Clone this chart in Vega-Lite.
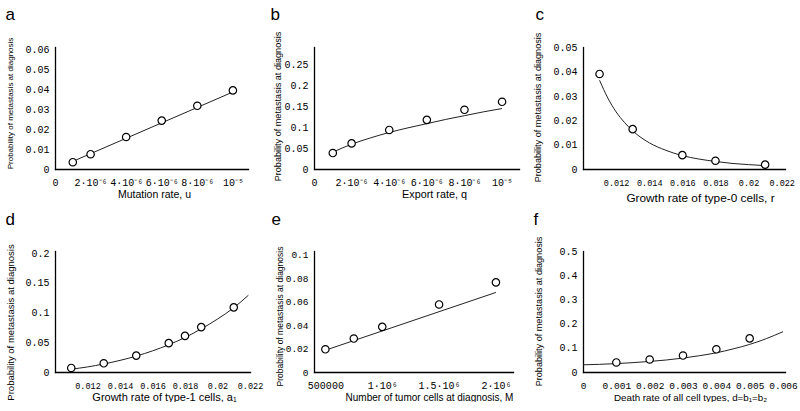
{
 "$schema": "https://vega.github.io/schema/vega-lite/v6.json",
 "padding": {"left": 5, "top": 5, "right": 0, "bottom": 0},
 "background": "white",
 "columns": 3,
 "bounds": "flush",
 "spacing": {"row": 82, "column": 64},
 "config": {
  "view": {"stroke": null},
  "axis": {"domainColor": "#000", "domainWidth": 1.3, "ticks": false, "grid": false, "labelColor": "#000", "labelFont": "Liberation Mono", "titleFont": "Liberation Sans", "titleFontWeight": "normal", "titleColor": "#000", "labelFontSize": 10, "domainCap": "square", "labelFlush": false, "labelOverlap": false, "labelBound": false, "titleBaseline": "middle"},
  "axisX": {"labelPadding": 8},
  "axisY": {"labelPadding": 6},
  "axisTop": {"labels": false, "domain": false, "ticks": false, "titleBaseline": "alphabetic", "titleAlign": "left", "titleAnchor": "start", "titleFontSize": 17, "titleFont": "Liberation Sans"}
 },
 "datasets": {
  "a_pts": [{"x":1e-6,"y":0.0034},{"x":2e-6,"y":0.0074},{"x":4e-6,"y":0.016},{"x":6e-6,"y":0.0242},{"x":8e-6,"y":0.0316},{"x":1e-5,"y":0.0393}],
  "a_line": [{"x":1e-6,"y":0.0038},{"x":1e-5,"y":0.0385}],
  "b_pts": [{"x":1e-6,"y":0.038},{"x":2e-6,"y":0.061},{"x":4e-6,"y":0.093},{"x":6e-6,"y":0.117},{"x":8e-6,"y":0.141},{"x":1e-5,"y":0.160}],
  "b_line": [{"x":1e-6,"y":0.040},{"x":1.5e-6,"y":0.050},{"x":2e-6,"y":0.059},{"x":3e-6,"y":0.074},{"x":4e-6,"y":0.087},{"x":5e-6,"y":0.098},{"x":6e-6,"y":0.108},{"x":7e-6,"y":0.118},{"x":8e-6,"y":0.127},{"x":9e-6,"y":0.136},{"x":1e-5,"y":0.144}],
  "c_pts": [{"x":0.011,"y":0.0391},{"x":0.013,"y":0.0164},{"x":0.016,"y":0.0057},{"x":0.018,"y":0.0034},{"x":0.021,"y":0.0018}],
  "c_line": [{"x":0.011,"y":0.0365},{"x":0.0115,"y":0.0292},{"x":0.012,"y":0.0235},{"x":0.0125,"y":0.0192},{"x":0.013,"y":0.0157},{"x":0.014,"y":0.0108},{"x":0.015,"y":0.0077},{"x":0.016,"y":0.0055},{"x":0.017,"y":0.0041},{"x":0.018,"y":0.0031},{"x":0.019,"y":0.0023},{"x":0.020,"y":0.0018},{"x":0.021,"y":0.0014}],
  "d_pts": [{"x":0.011,"y":0.0068},{"x":0.013,"y":0.0146},{"x":0.015,"y":0.0276},{"x":0.017,"y":0.0485},{"x":0.018,"y":0.0608},{"x":0.019,"y":0.0755},{"x":0.021,"y":0.1087}],
  "d_line": [{"x":0.011,"y":0.0048},{"x":0.012,"y":0.0085},{"x":0.013,"y":0.0135},{"x":0.014,"y":0.0195},{"x":0.015,"y":0.0268},{"x":0.016,"y":0.0355},{"x":0.017,"y":0.0458},{"x":0.018,"y":0.058},{"x":0.019,"y":0.0725},{"x":0.020,"y":0.089},{"x":0.021,"y":0.108},{"x":0.0219,"y":0.129}],
  "e_pts": [{"x":500000,"y":0.0194},{"x":750000,"y":0.0286},{"x":1000000,"y":0.0386},{"x":1500000,"y":0.0577},{"x":2000000,"y":0.0766}],
  "e_line": [{"x":500000,"y":0.0186},{"x":2000000,"y":0.068}],
  "f_pts": [{"x":0.001,"y":0.0397},{"x":0.002,"y":0.052},{"x":0.003,"y":0.0685},{"x":0.004,"y":0.0945},{"x":0.005,"y":0.14}],
  "f_line": [{"x":0,"y":0.030},{"x":0.0005,"y":0.032},{"x":0.001,"y":0.035},{"x":0.0015,"y":0.039},{"x":0.002,"y":0.044},{"x":0.0025,"y":0.050},{"x":0.003,"y":0.058},{"x":0.0035,"y":0.068},{"x":0.004,"y":0.080},{"x":0.0045,"y":0.096},{"x":0.005,"y":0.115},{"x":0.0055,"y":0.139},{"x":0.006,"y":0.168}]
 },
 "concat": [
  {
   "width": 193, "height": 122,
   "resolve": {"axis": {"x": "independent"}},
   "encoding": {
    "x": {"field": "x", "type": "quantitative", "scale": {"domain": [0, 1.085e-5], "nice": false, "zero": false},
          "axis": {"title": "Mutation rate, u", "titleFontSize": 10.5, "titleX": 99, "titleY": 25, "values": [0, 2e-6, 4e-6, 6e-6, 8e-6, 1e-5], "labelExpr": "datum.value == 0 ? '0' : datum.value > 9.9e-6 ? '10⁻⁵' : format(datum.value*1e6, 'd') + '·10⁻⁶'"}},
    "y": {"field": "y", "type": "quantitative", "scale": {"domain": [0, 0.061], "nice": false},
          "axis": {"title": "Probability of metastasis at diagnosis", "titleFontSize": 8, "titleX": -45, "titleY": 56, "values": [0, 0.01, 0.02, 0.03, 0.04, 0.05, 0.06], "format": ".2~f"}}
   },
   "layer": [
    {"data": {"name": "a_line"}, "mark": {"type": "line", "color": "#222", "strokeWidth": 1}},
    {"data": {"name": "a_pts"}, "mark": {"type": "point", "shape": "circle", "filled": true, "fill": "white", "stroke": "black", "strokeWidth": 1.2, "size": 55, "opacity": 1},
     "encoding": {"x": {"field": "x", "type": "quantitative", "axis": {"orient": "top", "title": "a", "titleX": -50, "titleY": -27.5}}}}
   ]
  },
  {
   "width": 205, "height": 122,
   "resolve": {"axis": {"x": "independent"}},
   "encoding": {
    "x": {"field": "x", "type": "quantitative", "scale": {"domain": [0, 1.09e-5], "nice": false, "zero": false},
          "axis": {"title": "Export rate, q", "titleFontSize": 10.8, "titleX": 120, "titleY": 25, "values": [0, 2e-6, 4e-6, 6e-6, 8e-6, 1e-5], "labelExpr": "datum.value == 0 ? '0' : datum.value > 9.9e-6 ? '10⁻⁵' : format(datum.value*1e6, 'd') + '·10⁻⁶'"}},
    "y": {"field": "y", "type": "quantitative", "scale": {"domain": [0, 0.2905], "nice": false},
          "axis": {"title": "Probability of metastasis at diagnosis", "titleFontSize": 9.1, "titleX": -37, "titleY": 59, "values": [0, 0.05, 0.1, 0.15, 0.2, 0.25], "format": ".2~f"}}
   },
   "layer": [
    {"data": {"name": "b_line"}, "mark": {"type": "line", "color": "#222", "strokeWidth": 1, "interpolate": "monotone"}},
    {"data": {"name": "b_pts"}, "mark": {"type": "point", "shape": "circle", "filled": true, "fill": "white", "stroke": "black", "strokeWidth": 1.2, "size": 55, "opacity": 1},
     "encoding": {"x": {"field": "x", "type": "quantitative", "axis": {"orient": "top", "title": "b", "titleX": -44, "titleY": -27.5}}}}
   ]
  },
  {
   "width": 202, "height": 122,
   "resolve": {"axis": {"x": "independent"}},
   "encoding": {
    "x": {"field": "x", "type": "quantitative", "scale": {"domain": [0.01, 0.0222], "nice": false, "zero": false},
          "axis": {"title": "Growth rate of type-0 cells, r", "titleFontSize": 11.8, "titleX": 117, "titleY": 28, "labelFontSize": 8.5, "labelPadding": 9, "values": [0.012, 0.014, 0.016, 0.018, 0.02, 0.022], "format": ".3~f"}},
    "y": {"field": "y", "type": "quantitative", "scale": {"domain": [0, 0.0502], "nice": false},
          "axis": {"title": "Probability of metastasis at diagnosis", "titleFontSize": 9.1, "titleX": -46, "titleY": 60, "values": [0, 0.01, 0.02, 0.03, 0.04, 0.05], "format": ".2~f"}}
   },
   "layer": [
    {"data": {"name": "c_line"}, "mark": {"type": "line", "color": "#222", "strokeWidth": 1, "interpolate": "monotone"}},
    {"data": {"name": "c_pts"}, "mark": {"type": "point", "shape": "circle", "filled": true, "fill": "white", "stroke": "black", "strokeWidth": 1.2, "size": 55, "opacity": 1},
     "encoding": {"x": {"field": "x", "type": "quantitative", "axis": {"orient": "top", "title": "c", "titleX": -48, "titleY": -27.5}}}}
   ]
  },
  {
   "width": 195, "height": 121,
   "resolve": {"axis": {"x": "independent"}},
   "encoding": {
    "x": {"field": "x", "type": "quantitative", "scale": {"domain": [0.01, 0.022], "nice": false, "zero": false},
          "axis": {"title": "Growth rate of type-1 cells, a₁", "titleFontSize": 11, "titleX": 109, "titleY": 25, "labelFontSize": 8.5, "labelPadding": 9, "values": [0.012, 0.014, 0.016, 0.018, 0.02, 0.022], "format": ".3~f"}},
    "y": {"field": "y", "type": "quantitative", "scale": {"domain": [0, 0.2034], "nice": false},
          "axis": {"title": "Probability of metastasis at diagnosis", "titleFontSize": 9.5, "titleX": -44.5, "titleY": 71, "values": [0, 0.05, 0.1, 0.15, 0.2], "format": ".2~f"}}
   },
   "layer": [
    {"data": {"name": "d_line"}, "mark": {"type": "line", "color": "#222", "strokeWidth": 1, "interpolate": "monotone"}},
    {"data": {"name": "d_pts"}, "mark": {"type": "point", "shape": "circle", "filled": true, "fill": "white", "stroke": "black", "strokeWidth": 1.2, "size": 55, "opacity": 1},
     "encoding": {"x": {"field": "x", "type": "quantitative", "axis": {"orient": "top", "title": "d", "titleX": -50, "titleY": -27}}}}
   ]
  },
  {
   "width": 199, "height": 121,
   "resolve": {"axis": {"x": "independent"}},
   "encoding": {
    "x": {"field": "x", "type": "quantitative", "scale": {"domain": [400000, 2150000], "nice": false, "zero": false},
          "axis": {"title": "Number of tumor cells at diagnosis, M", "titleFontSize": 10, "titleX": 115, "titleY": 25, "values": [500000, 1000000, 1500000, 2000000], "labelExpr": "datum.value == 500000 ? '500000' : format(datum.value/1e6, '~g') + '·10⁶'"}},
    "y": {"field": "y", "type": "quantitative", "scale": {"domain": [0, 0.1034], "nice": false},
          "axis": {"title": "Probability of metastasis at diagnosis", "titleFontSize": 8.5, "titleX": -35, "titleY": 65, "labelFontSize": 9.5, "values": [0, 0.02, 0.04, 0.06, 0.08, 0.1], "format": ".2~f"}}
   },
   "layer": [
    {"data": {"name": "e_line"}, "mark": {"type": "line", "color": "#222", "strokeWidth": 1}},
    {"data": {"name": "e_pts"}, "mark": {"type": "point", "shape": "circle", "filled": true, "fill": "white", "stroke": "black", "strokeWidth": 1.2, "size": 55, "opacity": 1},
     "encoding": {"x": {"field": "x", "type": "quantitative", "axis": {"orient": "top", "title": "e", "titleX": -43, "titleY": -27}}}}
   ]
  },
  {
   "width": 202, "height": 121,
   "resolve": {"axis": {"x": "independent"}},
   "encoding": {
    "x": {"field": "x", "type": "quantitative", "scale": {"domain": [0, 0.00606], "nice": false, "zero": false},
          "axis": {"title": "Death rate of all cell types, d=b₁=b₂", "titleFontSize": 9.8, "titleX": 107, "titleY": 25, "labelFontSize": 9.5, "values": [0, 0.001, 0.002, 0.003, 0.004, 0.005, 0.006], "format": ".3~f"}},
    "y": {"field": "y", "type": "quantitative", "scale": {"domain": [0, 0.504], "nice": false},
          "axis": {"title": "Probability of metastasis at diagnosis", "titleFontSize": 9.1, "titleX": -45, "titleY": 60, "values": [0, 0.1, 0.2, 0.3, 0.4, 0.5], "format": ".1~f"}}
   },
   "layer": [
    {"data": {"name": "f_line"}, "mark": {"type": "line", "color": "#222", "strokeWidth": 1, "interpolate": "monotone"}},
    {"data": {"name": "f_pts"}, "mark": {"type": "point", "shape": "circle", "filled": true, "fill": "white", "stroke": "black", "strokeWidth": 1.2, "size": 55, "opacity": 1},
     "encoding": {"x": {"field": "x", "type": "quantitative", "axis": {"orient": "top", "title": "f", "titleX": -50, "titleY": -27}}}}
   ]
  }
 ]
}
